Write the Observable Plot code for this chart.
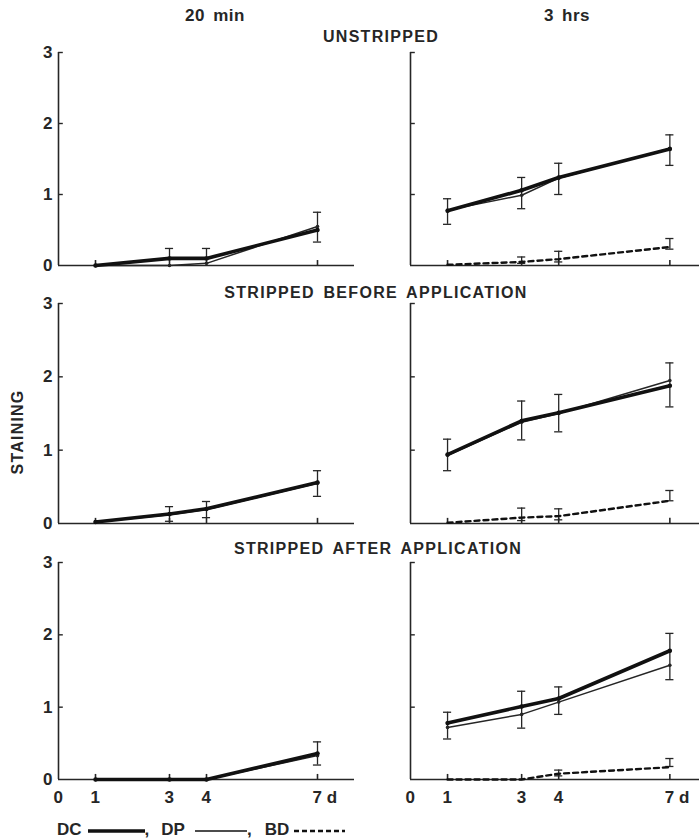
<!DOCTYPE html>
<html><head><meta charset="utf-8">
<script src="https://cdn.jsdelivr.net/npm/d3@7"></script>
<script src="https://cdn.jsdelivr.net/npm/@observablehq/plot@0.6"></script>
<style>
body{margin:0;background:#fff;}
#chart{position:relative;width:699px;height:839px;background:#fff;font-family:"Liberation Sans",Arial,sans-serif;color:#262626;overflow:hidden;}
.lbl{position:absolute;white-space:nowrap;font-weight:bold;font-size:16px;transform:translate(-50%,-50%);letter-spacing:1.3px;word-spacing:3px;}
.panel{position:absolute;}
.legend{position:absolute;left:57px;top:820px;display:flex;align-items:center;font-weight:bold;font-size:17px;color:#262626;}
.legend svg{display:block;}
</style></head><body><div id="chart"></div>
<script>
// ---- data ----
const days = [1, 3, 4, 7];
const times = ["20 min", "3 hrs"];
const conditions = ["UNSTRIPPED", "STRIPPED BEFORE APPLICATION", "STRIPPED AFTER APPLICATION"];
const seriesNames = ["DC", "DP", "BD"];
const yAxisTitle = "STAINING";

// rows: unstripped, stripped before, stripped after ; values at days 1,3,4,7
const DC_20min = [[0, 0.10, 0.10, 0.50], [0.02, 0.13, 0.20, 0.56], [0, 0, 0, 0.36]];
const DP_20min = [[0, 0, 0.03, 0.55], [0.02, 0.12, 0.19, 0.55], [0, 0, 0, 0.33]];
const DC_3hrs = [[0.77, 1.06, 1.24, 1.64], [0.94, 1.40, 1.51, 1.88], [0.78, 1.01, 1.12, 1.78]];
const DP_3hrs = [[0.78, 0.99, 1.23, 1.65], [0.93, 1.38, 1.50, 1.95], [0.72, 0.90, 1.07, 1.58]];
const BD_3hrs = [[0.01, 0.05, 0.09, 0.26], [0.01, 0.08, 0.10, 0.31], [0, 0, 0.08, 0.17]];

// error bars: [day, low, high]
const ERR_20min = [
  [[3, 0.10, 0.24], [4, 0.10, 0.24], [7, 0.33, 0.75]],
  [[3, 0.03, 0.23], [4, 0.08, 0.30], [7, 0.37, 0.72]],
  [[7, 0.20, 0.52]]
];
const ERR_3hrs = [
  [[1, 0.58, 0.94], [3, 0.80, 1.24], [4, 1.00, 1.44], [7, 1.41, 1.84]],
  [[1, 0.72, 1.15], [3, 1.14, 1.67], [4, 1.25, 1.76], [7, 1.59, 2.19]],
  [[1, 0.56, 0.93], [3, 0.71, 1.22], [4, 0.90, 1.28], [7, 1.38, 2.02]]
];
const BDERR_3hrs = [
  [[3, 0.03, 0.12], [4, 0.05, 0.20], [7, 0.23, 0.38]],
  [[3, 0.04, 0.21], [4, 0.05, 0.20], [7, 0.31, 0.45]],
  [[4, 0.05, 0.13], [7, 0.18, 0.29]]
];

const yTicks = [0, 1, 2, 3];
const xTickValues = [0, 1, 3, 4, 7];
const xTickLabels = ["0", "1", "3", "4", "7 d"];

// ---- layout ----
const ink = "#262626";
const font = "Liberation Sans, Arial, sans-serif";
const rowTops = [40, 291, 550];
const rowHeights = [230, 237, 259];
const rowBottoms = [5, 5, 30];

const chart = document.getElementById("chart");

function addLabel(text, x, y, extra) {
  const d = document.createElement("div");
  d.className = "lbl";
  d.textContent = text;
  d.style.left = x + "px";
  d.style.top = y + "px";
  if (extra) Object.assign(d.style, extra);
  chart.appendChild(d);
}

function panel(ti, ri) {
  const isLeft = ti === 0;
  const isBottom = ri === 2;
  const xMax = isLeft ? 8 : 7.8;
  const dc = (isLeft ? DC_20min : DC_3hrs)[ri];
  const dp = (isLeft ? DP_20min : DP_3hrs)[ri];
  const bd = isLeft ? null : BD_3hrs[ri];
  const errs = (isLeft ? ERR_20min : ERR_3hrs)[ri].concat(isLeft ? [] : BDERR_3hrs[ri])
    .map(([day, lo, hi]) => ({day, lo, hi}));
  const pts = (vals) => days.map((d, i) => ({day: d, v: vals[i]}));
  const cap = 0.11;

  const marks = [
    Plot.ruleY([0], {x1: 0, x2: xMax, stroke: ink, strokeWidth: 1.7}),
    Plot.ruleX([0], {y1: 0, y2: 3, stroke: ink, strokeWidth: 1.6}),
    Plot.ruleY(yTicks.slice(1), {y: d => d, x1: 0, x2: 0.13, stroke: ink, strokeWidth: 1.4}),
    Plot.ruleX(days, {x: d => d, y1: 0, y2: 0.07, stroke: ink, strokeWidth: 1.6}),
    Plot.ruleX(errs, {x: "day", y1: "lo", y2: "hi", stroke: ink, strokeWidth: 1.3}),
    Plot.ruleY(errs, {y: "hi", x1: d => d.day - cap, x2: d => d.day + cap, stroke: ink, strokeWidth: 1.3}),
    Plot.ruleY(errs, {y: "lo", x1: d => d.day - cap, x2: d => d.day + cap, stroke: ink, strokeWidth: 1.3}),
    Plot.line(pts(dp), {x: "day", y: "v", stroke: ink, strokeWidth: 1.5}),
    Plot.line(pts(dc), {x: "day", y: "v", stroke: "#111", strokeWidth: 3.6}),
    Plot.dot(pts(dp), {x: "day", y: "v", r: 1.8, fill: ink}),
    Plot.dot(pts(dc), {x: "day", y: "v", r: 2.2, fill: "#111"})
  ];
  if (bd) marks.push(Plot.line(pts(bd), {x: "day", y: "v", stroke: "#111", strokeWidth: 2.4, strokeDasharray: "5,4"}));
  if (isLeft) marks.push(Plot.axisY(yTicks, {tickSize: 0, tickPadding: 6, tickFormat: d => String(d), fontSize: 17, fontWeight: "bold", fill: ink, label: null, fontFamily: font}));
  if (isBottom) marks.push(Plot.text(xTickValues, {x: d => d, y: 0, text: (d, i) => xTickLabels[i], textAnchor: "start", dx: -5, dy: 18, fontSize: 17, fontWeight: "bold", fill: ink, fontFamily: font}));

  const width = isLeft ? 360 : 347;
  const svg = Plot.plot({
    width,
    height: rowHeights[ri],
    marginLeft: 58,
    marginRight: isLeft ? 6 : 0,
    marginTop: 12,
    marginBottom: rowBottoms[ri],
    x: {domain: [0, xMax], axis: null},
    y: {domain: [0, 3], axis: null},
    style: {background: "transparent", overflow: "visible", fontFamily: font},
    marks
  });
  svg.classList.add("panel");
  svg.style.left = (isLeft ? 0 : 352) + "px";
  svg.style.top = rowTops[ri] + "px";
  chart.appendChild(svg);
}

for (let ri = 0; ri < 3; ri++) for (let ti = 0; ti < 2; ti++) panel(ti, ri);

addLabel(times[0], 215, 16, {letterSpacing: "0.5px", fontSize: "17px"});
addLabel(times[1], 567, 16, {letterSpacing: "0.5px", fontSize: "17px"});
addLabel(conditions[0], 381, 37);
addLabel(conditions[1], 376, 293);
addLabel(conditions[2], 378, 549);
addLabel(yAxisTitle, 18, 432, {transform: "translate(-50%,-50%) rotate(-90deg)", letterSpacing: "1.2px"});

// legend
const legend = document.createElement("div");
legend.className = "legend";
const styles = [
  {w: 57, sw: 3.6, dash: null, gapBefore: 0, gapAfter: 6},
  {w: 52, sw: 1.5, dash: null, gapBefore: 12, gapAfter: 10},
  {w: 51, sw: 2.4, dash: "5,3", gapBefore: 13, gapAfter: 5}
];
seriesNames.forEach((name, i) => {
  const s = styles[i];
  if (i > 0) {
    const c = document.createElement("span");
    c.textContent = ",";
    c.style.marginRight = s.gapBefore + "px";
    legend.appendChild(c);
  }
  const t = document.createElement("span");
  t.textContent = name;
  t.style.marginRight = s.gapAfter + "px";
  legend.appendChild(t);
  const ns = "http://www.w3.org/2000/svg";
  const svg = document.createElementNS(ns, "svg");
  svg.setAttribute("width", s.w);
  svg.setAttribute("height", 8);
  const line = document.createElementNS(ns, "line");
  line.setAttribute("x1", 0); line.setAttribute("x2", s.w);
  line.setAttribute("y1", 5); line.setAttribute("y2", 5);
  line.setAttribute("stroke", "#111");
  line.setAttribute("stroke-width", s.sw);
  if (s.dash) line.setAttribute("stroke-dasharray", s.dash);
  svg.appendChild(line);
  legend.appendChild(svg);
});
chart.appendChild(legend);
</script>
</body></html>
